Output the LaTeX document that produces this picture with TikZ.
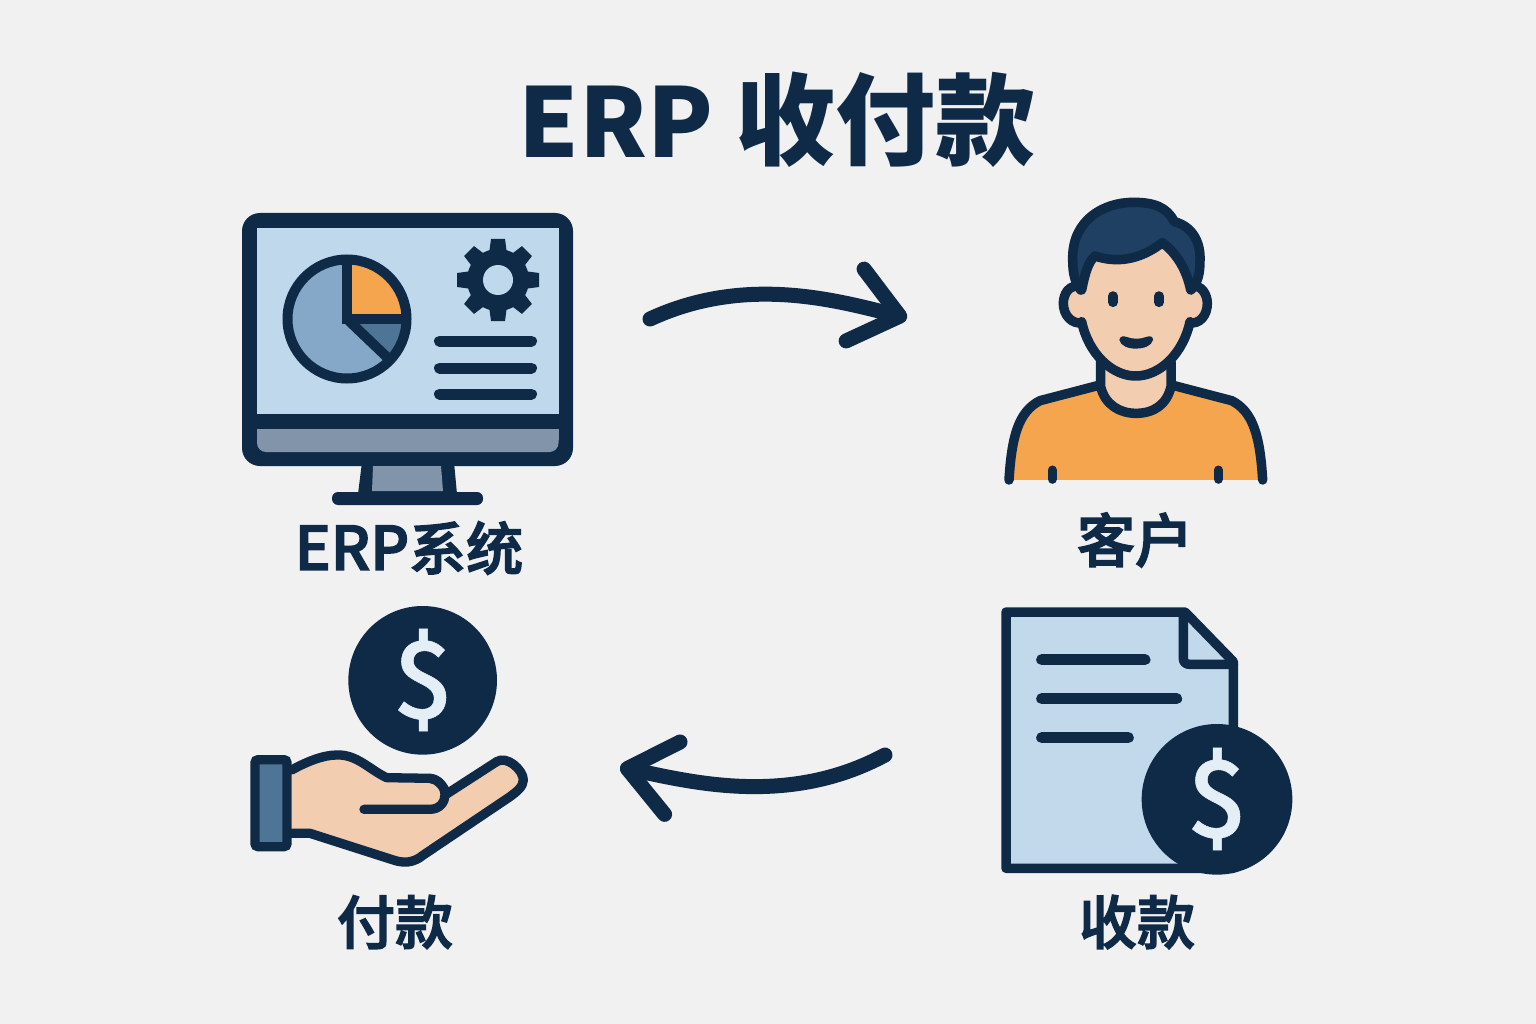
\documentclass[tikz,border=0pt]{standalone}
\usepackage{fontspec}
\setmainfont{Noto Sans CJK SC}
\newfontfamily\medfont[FakeBold=2.5]{Noto Sans CJK SC Medium}
\newfontfamily\markfont[FakeBold=0.5]{Noto Sans CJK SC Medium}
\usetikzlibrary{arrows.meta}
\definecolor{bgc}{HTML}{F1F1F1}
\definecolor{ink}{HTML}{0E2A47}
\definecolor{screenc}{HTML}{BFD8EC}
\definecolor{docc}{HTML}{C2D8EB}
\definecolor{shirt}{HTML}{F5A54E}
\definecolor{skin}{HTML}{F3CDB0}
\definecolor{hair}{HTML}{1F3F63}
\definecolor{greyc}{HTML}{8294A9}
\definecolor{pielight}{HTML}{85A8C8}
\definecolor{piemid}{HTML}{4F7596}
\definecolor{coinmark}{HTML}{E4EEF6}
\tikzset{
  px/.style={x=1pt,y=-1pt},
  zoomed/.style={shift={#1},x=0.33333pt,y=-0.33333pt},
  inkline/.style={draw=ink,line cap=round,line join=round},
  flowarrow/.style={draw=ink,line width=15pt,line cap=round,
    -{Straight Barb[round,length=46pt,width=74pt]}},
  caption/.style={text=ink,font=\fontsize{58pt}{64pt}\medfont,inner sep=0pt},
  coinmarktext/.style={text=coinmark,font=\fontsize{106pt}{108pt}\markfont,inner sep=0pt},
}
\begin{document}
\begin{tikzpicture}[px]
\useasboundingbox (0,0) rectangle (1536,1024);
\fill[bgc] (0,0) rectangle (1536,1024);

\node[text=ink,inner sep=0pt] (title) at (777,120) {\bfseries\fontsize{96pt}{110pt}\selectfont ERP\hspace{22pt}\fontsize{100pt}{110pt}\selectfont 收付款};

% ---- monitor
\fill[ink,rounded corners=18pt] (242,213) rectangle (573,466);
\fill[screenc] (257,228) rectangle (558.5,414);
\fill[greyc,rounded corners=9pt] (257,429) -- (257,452) -- (558.5,452) -- (558.5,429) -- cycle;
\fill[greyc] (257,429) rectangle (558.5,440);
\fill[ink] (362,462) -- (454,462) -- (457,494) -- (358,494) -- cycle;
\fill[greyc] (373,466) -- (441,466) -- (443,491) -- (372,491) -- cycle;
\fill[ink,rounded corners=6pt] (332,492) rectangle (483,505);
% pie
\fill[pielight] (347,319) circle[radius=59];
\fill[shirt] (347,319) -- (347,260) arc[start angle=-90,end angle=0,radius=59] -- cycle;
\fill[piemid] (347,319) -- (406,319) arc[start angle=0,end angle=45,radius=59] -- cycle;
\draw[ink,line width=10pt] (347,319) circle[radius=59.5];
\draw[ink,line width=10pt] (347,262) -- (347,319) -- (404,319);
\draw[ink,line width=10pt] (347,319) -- (391,361);
% gear
\fill[ink] (498,280) circle[radius=31];
\foreach \a in {0,45,...,315}
  \fill[ink,shift={(498,280)},rotate=\a] (26,-9) -- (41,-7) -- (41,7) -- (26,9) -- cycle;
\fill[screenc] (498,280) circle[radius=15];
% text lines
\foreach \yy in {341,368,394}
  \draw[inkline,line width=11pt] (439.5,\yy) -- (531.5,\yy);

% ---- person
\begin{scope}[zoomed={(990,190)}]
  % shirt
  \fill[shirt] (57,870) .. controls (65,740) and (85,665) .. (150,632) -- (330,585) -- (545,585) -- (725,632)
     .. controls (790,665) and (810,740) .. (818,870) -- cycle;
  \draw[inkline,line width=9.5pt] (57,870) .. controls (65,740) and (85,665) .. (150,632) -- (330,585);
  \draw[inkline,line width=9.5pt] (545,585) -- (725,632) .. controls (790,665) and (810,740) .. (818,870);
  \draw[inkline,line width=9pt] (187,840) -- (187,868);
  \draw[inkline,line width=9pt] (685,840) -- (685,868);
  % neck
  \filldraw[fill=skin,inkline,line width=9.5pt] (332,515) -- (332,590) .. controls (345,645) and (390,670) .. (438,670)
     .. controls (490,670) and (530,645) .. (543,590) -- (543,515) -- cycle;
  % ears
  \filldraw[fill=skin,inkline,line width=9.5pt] (275,290) .. controls (235,280) and (220,315) .. (220,340)
     .. controls (220,375) and (245,405) .. (280,398);
  \filldraw[fill=skin,inkline,line width=9.5pt] (600,290) .. controls (635,280) and (652,315) .. (652,340)
     .. controls (652,375) and (630,405) .. (595,398);
  % hair back
  \filldraw[fill=hair,inkline,line width=9.5pt] (272,300) .. controls (250,270) and (248,240) .. (248,200)
     .. controls (250,90) and (340,37) .. (430,37) .. controls (490,37) and (530,50) .. (553,95)
     .. controls (610,110) and (632,160) .. (630,210) .. controls (630,250) and (625,275) .. (603,300) -- cycle;
  % face
  \fill[skin] (275,300) .. controls (285,250) and (295,215) .. (315,198)
     .. controls (380,220) and (450,210) .. (517,158) .. controls (560,190) and (590,240) .. (602,300)
     -- (600,395) .. controls (580,490) and (510,558) .. (437,558)
     .. controls (365,558) and (295,490) .. (275,395) -- cycle;
  \draw[inkline,line width=9.5pt] (275,300) .. controls (285,250) and (295,215) .. (315,198)
     .. controls (380,220) and (450,210) .. (517,158) .. controls (560,190) and (590,240) .. (602,300);
  \draw[inkline,line width=9.5pt] (600,395) .. controls (580,490) and (510,558) .. (437,558)
     .. controls (365,558) and (295,490) .. (275,395);
  % face details
  \draw[inkline,line width=9.5pt] (369,318) -- (369,337);
  \draw[inkline,line width=9.5pt] (507,318) -- (507,337);
  \fill[ink] (388,450) .. controls (390,438) and (400,437) .. (410,441) .. controls (430,448) and (450,448) .. (468,441)
     .. controls (480,436) and (490,440) .. (489,450) .. controls (485,468) and (460,476) .. (438,476)
     .. controls (415,476) and (392,468) .. (388,450) -- cycle;
\end{scope}

% ---- hand with coin
\begin{scope}[zoomed={(240,600)}]
  \fill[ink] (548,241) circle[radius=223];
  \filldraw[fill=skin,inkline,line width=9.3pt] (155,510) .. controls (200,485) and (250,465) .. (290,465)
     .. controls (350,462) and (390,510) .. (440,533) -- (570,535)
     .. controls (590,537) and (610,555) .. (620,582) -- (770,485)
     .. controls (800,465) and (850,510) .. (850,540) .. controls (850,560) and (830,575) .. (810,590)
     -- (550,765) .. controls (520,790) and (490,790) .. (460,780) -- (210,700) -- (155,700);
  \draw[inkline,line width=9.3pt] (372,628) -- (570,628) .. controls (600,628) and (615,605) .. (615,585)
     .. controls (615,560) and (595,537) .. (570,535);
  \filldraw[fill=piemid,draw=ink,line width=9.3pt,rounded corners=3pt] (45,479) rectangle (141,740);
\end{scope}
\node[coinmarktext] (coinA) at (423,680) {\$};

% ---- invoice with coin
\begin{scope}[zoomed={(990,600)}]
  \filldraw[fill=docc,inkline,line width=9.5pt] (48,36) -- (585,36) -- (730,185) -- (730,805) -- (48,805) -- cycle;
  \draw[inkline,line width=9.5pt] (580,40) -- (580,175) .. controls (580,188) and (588,193) .. (600,193) -- (730,193);
  \draw[inkline,line width=11pt] (155,179) -- (465,179);
  \draw[inkline,line width=11pt] (155,296) -- (560,296);
  \draw[inkline,line width=11pt] (155,413) -- (415,413);
  \fill[ink] (681,598) circle[radius=226];
\end{scope}
\node[coinmarktext] (coinB) at (1217,799) {\$};

% ---- labels
\node[caption] (erp) at (409,548) {\fontsize{60pt}{64pt}\selectfont ERP\fontsize{57pt}{64pt}\selectfont 系统};
\node[caption] (cust) at (1135,540) {客户};
\node[caption] (pay) at (395,922) {付款};
\node[caption] (recv) at (1137,922) {收款};

% ---- connectors
\coordinate (topstart) at (650,319);
\coordinate (topend) at (907,318);
\coordinate (botstart) at (885,755);
\coordinate (botend) at (620,767);
\draw[flowarrow] (topstart) .. controls (745,275) and (835,300) .. (topend);
\draw[flowarrow] (botstart) .. controls (790,806) and (695,783) .. (botend);
\end{tikzpicture}
\end{document}
